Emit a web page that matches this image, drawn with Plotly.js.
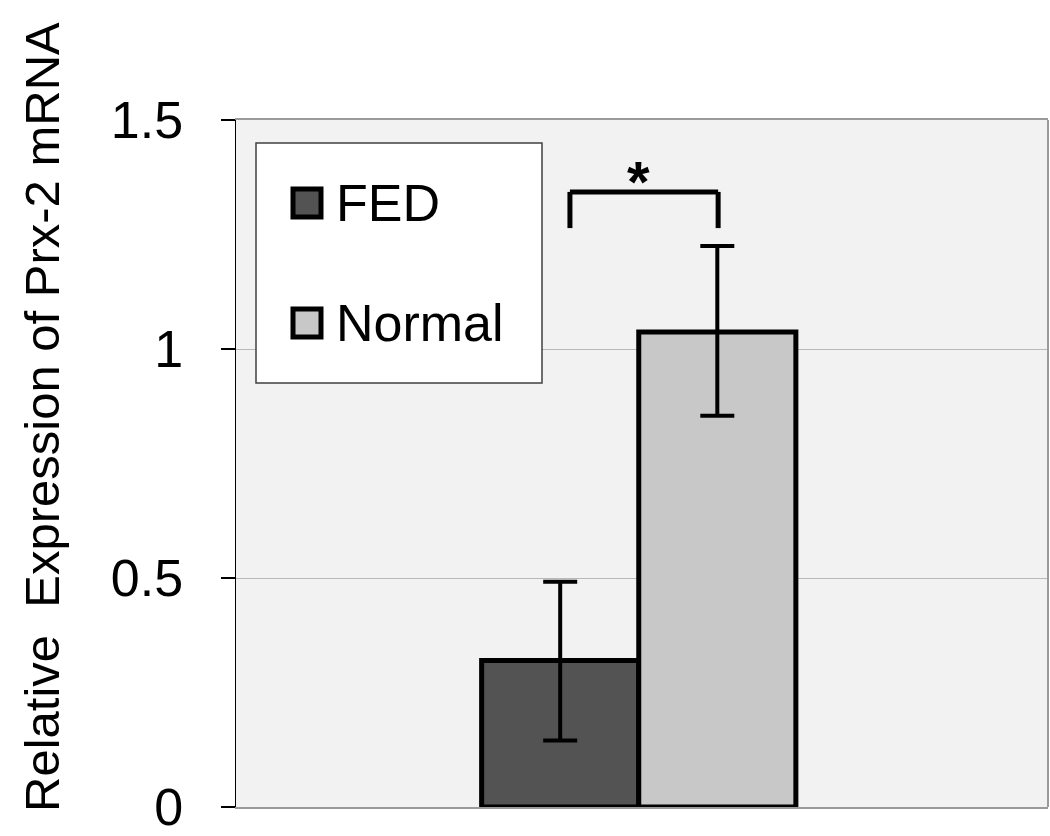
<!DOCTYPE html>
<html>
<head>
<meta charset="utf-8">
<script src="https://cdn.plot.ly/plotly-3.0.1.min.js"></script>
<style>
  html, body { margin: 0; padding: 0; background: #ffffff; }
  #chart { width: 1050px; height: 836px; }
</style>
</head>
<body>
<div id="chart"></div>
<script>
// ---- data ----
const category = ['Prx-2'];
const seriesNames = ['FED', 'Normal'];
const fedValues = [0.32];
const fedErrPlus = [0.172];
const fedErrMinus = [0.175];
const normalValues = [1.037];
const normalErrPlus = [0.188];
const normalErrMinus = [0.183];
const yTickVals = [0, 0.5, 1, 1.5];
const yTickText = ['0', '0.5', '1', '1.5'];
const yTitle = 'Relative&nbsp;&nbsp;Expression of Prx-2 mRNA';
const sigLabel = '*';
const sigBracket = { top: 1.343, bottom: 1.264 };

// ---- styles ----
const colors = ['#535353', '#c8c8c8'];
const font = 'Arial, "Liberation Sans", sans-serif';
const W = 1050, H = 836;
const M = { l: 236, r: 2, t: 120, b: 29 };
const pw = W - M.l - M.r, ph = H - M.t - M.b;
const px2x = p => (p - M.l) / pw;
const py2y = p => (H - M.b - p) / ph;

const bargap = 0.613;
const bw = (1 - bargap) / 2;
const xRange = [-0.496, 0.504];

const errStyle = { type: 'data', symmetric: false, color: '#000', thickness: 4, width: 17, visible: true };

const traces = [
  {
    type: 'bar', name: seriesNames[0], x: category, y: fedValues,
    marker: { color: colors[0], line: { color: '#000', width: 5 } },
    error_y: Object.assign({ array: fedErrPlus, arrayminus: fedErrMinus }, errStyle),
    hoverinfo: 'y'
  },
  {
    type: 'bar', name: seriesNames[1], x: category, y: normalValues,
    marker: { color: colors[1], line: { color: '#000', width: 5 } },
    error_y: Object.assign({ array: normalErrPlus, arrayminus: normalErrMinus }, errStyle),
    hoverinfo: 'y'
  }
];

// bracket x positions relative to bar centres
const xLeft = -bw / 2 + 0.012;
const xRight = bw / 2 + 0.001;
const lineBr = { color: '#000', width: 5 };

const shapes = [
  // right border of plot area
  { type: 'line', xref: 'paper', yref: 'paper', x0: 1, x1: 1, y0: 0, y1: 1, line: { color: '#9a9a9a', width: 2 } },
  // significance bracket
  { type: 'line', xref: 'x', yref: 'y', x0: xLeft, x1: xLeft, y0: sigBracket.bottom, y1: sigBracket.top, line: lineBr },
  { type: 'line', xref: 'x', yref: 'y', x0: xLeft, x1: xRight, y0: sigBracket.top, y1: sigBracket.top, line: lineBr },
  { type: 'line', xref: 'x', yref: 'y', x0: xRight, x1: xRight, y0: sigBracket.bottom, y1: sigBracket.top, line: lineBr },
  // legend box
  { type: 'rect', xref: 'paper', yref: 'paper', x0: px2x(256), x1: px2x(542), y0: py2y(383), y1: py2y(143),
    fillcolor: '#ffffff', line: { color: '#404040', width: 1.5 }, layer: 'above' },
  // legend swatches
  { type: 'rect', xref: 'paper', yref: 'paper', x0: px2x(293), x1: px2x(321), y0: py2y(217), y1: py2y(189),
    fillcolor: colors[0], line: { color: '#000', width: 5 }, layer: 'above' },
  { type: 'rect', xref: 'paper', yref: 'paper', x0: px2x(293), x1: px2x(321), y0: py2y(337), y1: py2y(309),
    fillcolor: colors[1], line: { color: '#000', width: 5 }, layer: 'above' }
];

const annotations = [
  { xref: 'paper', yref: 'paper', x: px2x(42), y: py2y(417), text: yTitle, textangle: -90,
    showarrow: false, xanchor: 'center', yanchor: 'middle', font: { family: font, size: 49, color: '#000' } },
  { xref: 'x', yref: 'y', x: 0, y: 1.365, text: '<b>' + sigLabel + '</b>', showarrow: false,
    xanchor: 'center', yanchor: 'middle', font: { family: font, size: 58, color: '#000' } },
  { xref: 'paper', yref: 'paper', x: px2x(335), y: py2y(203), text: seriesNames[0], showarrow: false,
    xanchor: 'left', yanchor: 'middle', borderpad: 0, font: { family: font, size: 52, color: '#000' } },
  { xref: 'paper', yref: 'paper', x: px2x(335), y: py2y(323), text: seriesNames[1], showarrow: false,
    xanchor: 'left', yanchor: 'middle', borderpad: 0, font: { family: font, size: 52, color: '#000' } }
];

const layout = {
  width: W, height: H,
  margin: M,
  paper_bgcolor: '#ffffff',
  plot_bgcolor: '#f2f2f2',
  barmode: 'group',
  bargap: bargap,
  bargroupgap: 0,
  showlegend: false,
  font: { family: font, color: '#000' },
  xaxis: {
    type: 'category', range: xRange, showticklabels: false, ticks: '',
    showgrid: false, zeroline: false, showline: true, mirror: true,
    linecolor: '#9a9a9a', linewidth: 2, fixedrange: true
  },
  yaxis: {
    range: [0, 1.5], tickvals: yTickVals, ticktext: yTickText,
    tickfont: { family: font, size: 52, color: '#000' },
    ticks: 'outside', ticklen: 14, tickwidth: 1.5, tickcolor: '#000',
    ticklabelstandoff: 27, ticklabeloverflow: 'allow',
    showline: true, linecolor: '#000', linewidth: 1.5,
    showgrid: true, gridcolor: '#b8b8b8', gridwidth: 1,
    zeroline: false, fixedrange: true
  },
  shapes: shapes,
  annotations: annotations
};

Plotly.newPlot('chart', traces, layout, { displayModeBar: false, staticPlot: true });
</script>
</body>
</html>
